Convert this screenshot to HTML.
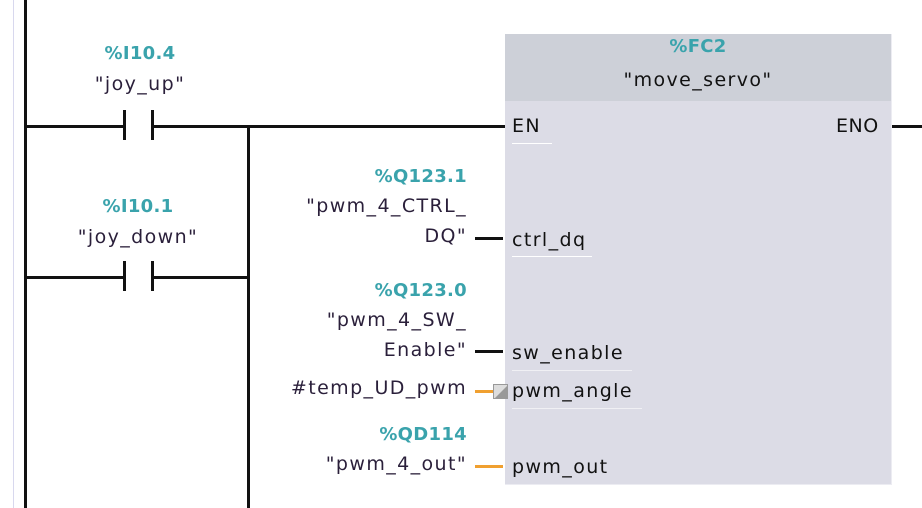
<!DOCTYPE html>
<html><head><meta charset="utf-8"><style>
body{margin:0;width:922px;height:508px;background:#fff;position:relative;overflow:hidden;font-family:"DejaVu Sans","Liberation Sans",sans-serif;}
div{position:absolute;}
.t{font-size:19px;letter-spacing:1.4px;color:#2a1f3a;white-space:nowrap;}
.c{color:#3aa3ac;font-weight:bold;font-size:18px;letter-spacing:0.3px;}
.r{text-align:right;}
.k{background:#111;}
.o{background:#f0a030;}
</style></head><body>
<div style="left:13px;top:0;width:1px;height:508px;background:#d8d8ee"></div>
<div class="k" style="left:24px;top:0;width:3px;height:508px"></div>
<div class="k" style="left:247px;top:125px;width:3px;height:383px"></div>
<div class="k" style="left:27px;top:125px;width:97px;height:3px"></div>
<div class="k" style="left:123px;top:110px;width:3px;height:30px"></div>
<div class="k" style="left:151px;top:110px;width:3px;height:30px"></div>
<div class="k" style="left:154px;top:125px;width:351px;height:3px"></div>
<div class="k" style="left:891px;top:125px;width:31px;height:3px"></div>
<div class="k" style="left:27px;top:276px;width:97px;height:3px"></div>
<div class="k" style="left:123px;top:261px;width:3px;height:30px"></div>
<div class="k" style="left:151px;top:261px;width:3px;height:30px"></div>
<div class="k" style="left:154px;top:276px;width:94px;height:3px"></div>
<div class="t c" style="left:60px;width:160px;text-align:center;top:43px">%I10.4</div>
<div class="t" style="left:60px;width:160px;text-align:center;top:73px">"joy_up"</div>
<div class="t c" style="left:58px;width:160px;text-align:center;top:196px">%I10.1</div>
<div class="t" style="left:58px;width:160px;text-align:center;top:226px">"joy_down"</div>
<div style="left:505px;top:34px;width:386px;height:450px;background:#dcdce6;border-right:1px solid #ececf2;border-bottom:1px solid #ececf2"></div>
<div style="left:505px;top:34px;width:386px;height:67px;background:#cdd0d8"></div>
<div class="t c" style="left:505px;width:386px;text-align:center;top:36px">%FC2</div>
<div class="t" style="left:505px;width:386px;text-align:center;top:69px;color:#111">"move_servo"</div>
<div class="t" style="left:512px;top:115px;color:#111">EN</div>
<div style="left:512px;top:143px;width:40px;height:1px;background:#fff"></div>
<div class="t" style="left:836px;top:115px;color:#111;letter-spacing:0.5px">ENO</div>
<div class="t" style="left:512px;top:229px;color:#111">ctrl_dq</div>
<div style="left:512px;top:256px;width:80px;height:1px;background:#fff"></div>
<div class="t" style="left:512px;top:342px;color:#111">sw_enable</div>
<div style="left:512px;top:370px;width:120px;height:1px;background:#f0f0f4"></div>
<div class="t" style="left:512px;top:380px;color:#111">pwm_angle</div>
<div style="left:512px;top:408px;width:130px;height:1px;background:#f0f0f4"></div>
<div class="t" style="left:512px;top:456px;color:#111">pwm_out</div>
<div class="t c r" style="left:247px;width:220px;top:166px">%Q123.1</div>
<div class="t r" style="left:247px;width:220px;top:195px">"pwm_4_CTRL_</div>
<div class="t r" style="left:247px;width:220px;top:225px">DQ"</div>
<div class="k" style="left:475px;top:237px;width:28px;height:3px"></div>
<div class="t c r" style="left:247px;width:220px;top:280px">%Q123.0</div>
<div class="t r" style="left:247px;width:220px;top:309px">"pwm_4_SW_</div>
<div class="t r" style="left:247px;width:220px;top:339px">Enable"</div>
<div class="k" style="left:475px;top:350px;width:28px;height:3px"></div>
<div class="t r" style="left:247px;width:220px;top:377px">#temp_UD_pwm</div>
<div class="o" style="left:475px;top:390px;width:18px;height:3px"></div>
<svg style="position:absolute;left:493px;top:384px" width="16" height="16"><rect x="0.5" y="0.5" width="14" height="14" fill="#ddd" stroke="#999"/><polygon points="1,15 15,1 15,15" fill="#999"/></svg>
<div class="t c r" style="left:247px;width:220px;top:424px">%QD114</div>
<div class="t r" style="left:247px;width:220px;top:453px">"pwm_4_out"</div>
<div class="o" style="left:475px;top:465px;width:28px;height:3px"></div>
</body></html>
